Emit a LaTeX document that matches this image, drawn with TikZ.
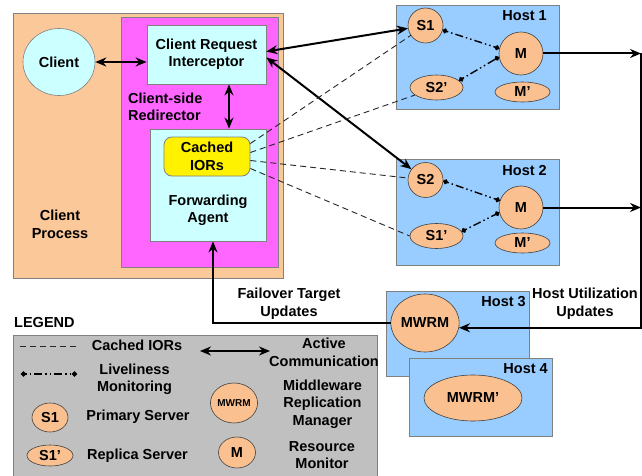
\documentclass[tikz,border=0pt]{standalone}
\usepackage{fontspec}
\setmainfont{Liberation Sans}
\usetikzlibrary{shapes.geometric,arrows.meta,positioning,calc}

\definecolor{procorange}{RGB}{251,200,153}
\definecolor{redirpink}{RGB}{255,102,255}
\definecolor{agentcyan}{RGB}{204,255,255}
\definecolor{hostblue}{RGB}{153,204,255}
\definecolor{srvorange}{RGB}{250,192,144}
\definecolor{lgdgray}{RGB}{192,192,192}
\definecolor{edgegray}{RGB}{128,128,128}

\begin{document}
\begin{tikzpicture}[
    x=1pt, y=-1pt,
    every node/.style={font=\fontsize{14.5}{17.5}\selectfont\bfseries},
    box/.style={draw=edgegray, line width=0.8pt, rectangle, inner sep=0pt, align=center},
    hostbox/.style={box, fill=hostblue},
    srv/.style={draw=black!75, line width=0.6pt, fill=srvorange, ellipse, inner sep=0pt},
    lbl/.style={align=center, inner sep=1pt},
    comm/.style={{Stealth[length=11pt,width=9pt]}-{Stealth[length=11pt,width=9pt]}, line width=2pt},
    upd/.style={-{Stealth[length=11pt,width=9pt]}, line width=2pt},
    cached/.style={dash pattern=on 6pt off 4pt, line width=0.9pt, draw=black!85},
    alive/.style={{Circle[length=5pt]}-{Circle[length=5pt]}, dash pattern=on 1.5pt off 3pt on 1.5pt off 3pt on 8pt off 3pt, line width=1.4pt}
]
    \useasboundingbox (0,0) rectangle (642,476);

    % Client process
    \node[box, fill=procorange, minimum width=270pt, minimum height=265pt] (proc) at (148,145.5) {};
    \node[lbl] (proclbl) at (60,224.5) {Client\\Process};
    \node[box, fill=redirpink, minimum width=157pt, minimum height=250pt] (redir) at (199.5,142) {};
    \node[box, fill=agentcyan, minimum width=119pt, minimum height=59pt] (crq) at (206.5,54.5) {Client Request\\Interceptor};
    \node[lbl, align=left, anchor=west] (redirlbl) at (127,107) {Client-side\\Redirector};
    \node[box, fill=agentcyan, minimum width=116pt, minimum height=112pt] (fwd) at (208,185) {};
    \node[box, fill=yellow, rounded corners=8pt, minimum width=86pt, minimum height=39pt] (ior) at (207,156.5) {Cached\\IORs};
    \node[lbl] (fwdlbl) at (208,210.5) {Forwarding\\Agent};
    \node[srv, draw=edgegray, fill=agentcyan, minimum width=72pt, minimum height=67pt] (client) at (59,62) {Client};

    % Host 1
    \node[hostbox, minimum width=163pt, minimum height=104pt] (h1) at (477.5,57) {};
    \node[lbl, anchor=east] (h1lbl) at (548,16) {Host 1};
    \node[srv, minimum width=35pt, minimum height=35pt] (s1) at (425.5,25.5) {S1};
    \node[srv, minimum width=44pt, minimum height=43pt] (m1) at (521,53.5) {M};
    \node[srv, minimum width=53pt, minimum height=25pt] (s2p) at (436.5,87.5) {S2'};
    \node[srv, minimum width=55pt, minimum height=20pt] (m1p) at (522.5,92) {M'};

    % Host 2
    \node[hostbox, minimum width=163pt, minimum height=106pt] (h2) at (477.5,212) {};
    \node[lbl, anchor=east] (h2lbl) at (548,171) {Host 2};
    \node[srv, minimum width=35pt, minimum height=35pt] (s2) at (425.5,180) {S2};
    \node[srv, minimum width=44pt, minimum height=43pt] (m2) at (521,207.5) {M};
    \node[srv, minimum width=53pt, minimum height=25pt] (s1p) at (436.5,236) {S1'};
    \node[srv, minimum width=55pt, minimum height=20pt] (m2p) at (522.5,243) {M'};

    % Hosts 3 and 4
    \node[hostbox, minimum width=143pt, minimum height=85pt] (h3) at (457.5,333.5) {};
    \node[lbl, anchor=east] (h3lbl) at (527,302) {Host 3};
    \node[srv, minimum width=62pt, minimum height=58pt] (mwrm) at (425,323) {MWRM};
    \node[hostbox, minimum width=143pt, minimum height=78pt] (h4) at (480.5,397) {};
    \node[lbl, anchor=east] (h4lbl) at (549,369) {Host 4};
    \node[srv, minimum width=98pt, minimum height=46pt] (mwrmp) at (473,398) {MWRM'};

    \node[lbl] (hulbl) at (585,303.5) {Host Utilization\\Updates};
    \node[lbl] (folbl) at (289,303.5) {Failover Target\\Updates};

    % Connections
    \draw[comm] (client.east) -- (client.east -| crq.west);
    \draw[comm] ([xshift=22.5pt]crq.south) -- ([xshift=22.5pt]crq.south |- fwd.north);
    \draw[comm] ([yshift=3pt]crq.east) -- (s1);
    \draw[comm] ([yshift=-3pt]crq.east) -- (s2);

    \draw[cached] ([yshift=13pt]ior.east) -- (s1);
    \draw[cached] ([yshift=4pt]ior.east) -- (s2p);
    \draw[cached] ([yshift=-4pt]ior.east) -- (s2);
    \draw[cached] ([yshift=-12pt]ior.east) -- (s1p.west);

    \draw[alive] (s1.-15) -- (m1.167);
    \draw[alive] (s2p.17) -- (m1.189);
    \draw[alive] (s2.-3) -- (m2.162);
    \draw[alive] (s1p.10) -- (m2.193);

    \coordinate (hu1) at (641,53.5);
    \coordinate (hu2) at (641,207.5);
    \draw[upd] (m1) -- (hu1);
    \draw[upd] (m2) -- (hu2);
    \draw[upd] (hu1) |- (mwrm.-8);
    \draw[upd] (mwrm.west) -| ([xshift=5pt]fwd.south);

    % Legend
    \node[lbl, anchor=west] (lgdtitle) at (13,323) {LEGEND};
    \node[box, fill=lgdgray, minimum width=364pt, minimum height=143pt] (lgd) at (195,406.5) {};
    \coordinate (ld1) at (20,346);
    \coordinate (ld2) at (78,346);
    \draw[cached] (ld1) -- (ld2);
    \node[lbl] (ldtxt) at (137,345) {Cached IORs};
    \coordinate (la1) at (200,351);
    \coordinate (la2) at (270,351);
    \draw[comm] (la1) -- (la2);
    \node[lbl] (latxt) at (324,352.5) {Active\\Communication};
    \coordinate (ll1) at (21,374);
    \coordinate (ll2) at (77,374);
    \draw[alive] (ll1) -- (ll2);
    \node[lbl] (lltxt) at (134.5,379.5) {Liveliness\\Monitoring};
    \node[srv, minimum width=36pt, minimum height=29pt] (lps) at (50,417.5) {S1};
    \node[lbl] (lpstxt) at (138,417) {Primary Server};
    \node[srv, minimum width=46pt, minimum height=21pt] (lrs) at (50,455.5) {S1'};
    \node[lbl] (lrstxt) at (137.5,456) {Replica Server};
    \node[srv, minimum width=40pt, minimum height=40pt, font=\fontsize{10}{12}\selectfont\bfseries] (lmw) at (234,403) {MWRM};
    \node[lbl] (lmwtxt) at (322.5,404) {Middleware\\Replication\\Manager};
    \node[srv, minimum width=37pt, minimum height=31pt] (lrm) at (237,452.5) {M};
    \node[lbl] (lrmtxt) at (322,455) {Resource\\Monitor};
\end{tikzpicture}
\end{document}
